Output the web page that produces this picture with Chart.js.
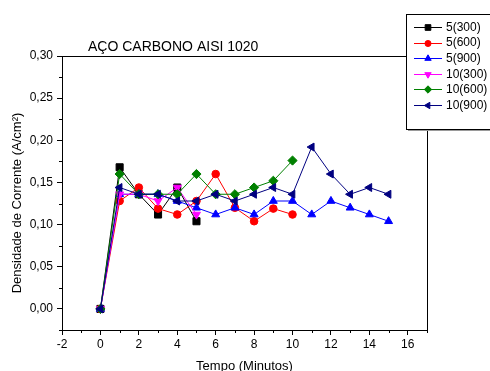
<!DOCTYPE html>
<html>
<head>
<meta charset="utf-8">
<script src="https://cdn.jsdelivr.net/npm/chart.js@4/dist/chart.umd.min.js"></script>
<style>
  html, body { margin: 0; padding: 0; background: #fff; }
  #wrap { width: 490px; height: 371px; }
</style>
</head>
<body>
<div id="wrap"><canvas id="c" width="490" height="371"></canvas></div>
<script>
// Time in minutes
const minutes = [0, 1, 2, 3, 4, 5, 6, 7, 8, 9, 10, 11, 12, 13, 14, 15];

// Current density (A/cm²) per series
const s5_300  = [0, 0.168, 0.136, 0.112, 0.144, 0.104];
const s5_600  = [0, 0.128, 0.144, 0.119, 0.112, 0.128, 0.160, 0.120, 0.104, 0.119, 0.112];
const s5_900  = [0, 0.136, 0.136, 0.136, 0.128, 0.120, 0.112, 0.120, 0.112, 0.128, 0.128, 0.112, 0.128, 0.120, 0.112, 0.104];
const s10_300 = [0, 0.136, 0.136, 0.128, 0.144, 0.112];
const s10_600 = [0, 0.160, 0.136, 0.136, 0.136, 0.160, 0.136, 0.136, 0.144, 0.152, 0.176];
const s10_900 = [0, 0.144, 0.136, 0.136, 0.128, 0.128, 0.136, 0.128, 0.136, 0.144, 0.136, 0.192, 0.160, 0.136, 0.144, 0.136];

const seriesLabels = ['5(300)', '5(600)', '5(900)', '10(300)', '10(600)', '10(900)'];
const xTickValues = [-2, 0, 2, 4, 6, 8, 10, 12, 14, 16];
const yTickValues = [0, 0.05, 0.10, 0.15, 0.20, 0.25, 0.30];

const chartTitle = 'AÇO CARBONO AISI 1020';
const xTitle = 'Tempo (Minutos)';
const yTitle = 'Densidade de Corrente (A/cm²)';

const FONT = '"Liberation Sans", Arial, sans-serif';

function pts(vals) {
  return vals.map((v, i) => ({ x: minutes[i], y: v }));
}

const styles = [
  { color: '#000000', pointStyle: 'rect',     rotation: 0,   radius: 5 },
  { color: '#ff0000', pointStyle: 'circle',   rotation: 0,   radius: 3.8 },
  { color: '#0000ff', pointStyle: 'triangle', rotation: 0,   radius: 4.6 },
  { color: '#ff00ff', pointStyle: 'triangle', rotation: 180, radius: 4.6 },
  { color: '#008000', pointStyle: 'rectRot',  rotation: 0,   radius: 4.6 },
  { color: '#000080', pointStyle: 'triangle', rotation: -90, radius: 4.6 }
];
const seriesValues = [s5_300, s5_600, s5_900, s10_300, s10_600, s10_900];

const datasets = seriesValues.map((vals, i) => ({
  label: seriesLabels[i],
  data: pts(vals),
  borderColor: styles[i].color,
  backgroundColor: styles[i].color,
  borderWidth: 1,
  pointStyle: styles[i].pointStyle,
  pointRotation: styles[i].rotation,
  pointRadius: styles[i].radius,
  pointHoverRadius: styles[i].radius,
  pointBorderWidth: 1,
  pointBorderColor: styles[i].color,
  pointBackgroundColor: styles[i].color,
  tension: 0,
  order: seriesValues.length - 1 - i
}));

// Frame, minor ticks, titles and boxed legend
const decor = {
  id: 'decor',
  afterDraw(chart) {
    const ctx = chart.ctx;
    const a = chart.chartArea;
    const xs = chart.scales.x, ys = chart.scales.y;
    ctx.save();
    ctx.strokeStyle = '#000';
    ctx.lineWidth = 1;
    // top and right edges of the plot frame
    ctx.beginPath();
    ctx.moveTo(Math.round(a.left) + 0.5, Math.round(a.top) + 0.5);
    ctx.lineTo(Math.round(a.right) + 0.5, Math.round(a.top) + 0.5);
    ctx.lineTo(Math.round(a.right) + 0.5, Math.round(a.bottom) + 0.5);
    ctx.stroke();
    // minor ticks
    ctx.beginPath();
    for (let v = -1; v <= 17; v += 2) {
      const px = Math.round(xs.getPixelForValue(v)) + 0.5;
      ctx.moveTo(px, Math.round(a.bottom));
      ctx.lineTo(px, Math.round(a.bottom) + 3);
    }
    for (let k = -1; k <= 11; k += 2) {
      const py = Math.round(ys.getPixelForValue(k * 0.025)) + 0.5;
      ctx.moveTo(Math.round(a.left), py);
      ctx.lineTo(Math.round(a.left) - 3, py);
    }
    ctx.stroke();

    // chart title
    ctx.fillStyle = '#000';
    ctx.font = '14px ' + FONT;
    ctx.textAlign = 'left';
    ctx.textBaseline = 'alphabetic';
    ctx.fillText(chartTitle, 88, 51);

    // axis titles
    ctx.font = '13px ' + FONT;
    ctx.textAlign = 'center';
    ctx.fillText(xTitle, (a.left + a.right) / 2, 370);
    ctx.save();
    ctx.translate(21, 203);
    ctx.rotate(-Math.PI / 2);
    ctx.fillText(yTitle, 0, 0);
    ctx.restore();

    // legend box
    const bx = 406, by = 14, bw = 90, bh = 115;
    ctx.fillStyle = '#9a9a9a';
    ctx.fillRect(bx + 2, by + 2, bw, bh);
    ctx.fillStyle = '#fff';
    ctx.fillRect(bx, by, bw, bh);
    ctx.strokeStyle = '#000';
    ctx.strokeRect(bx + 0.5, by + 0.5, bw, bh);

    ctx.font = '12px ' + FONT;
    ctx.textAlign = 'left';
    ctx.textBaseline = 'middle';
    chart.data.datasets.forEach((ds, i) => {
      const y = 27 + i * 15.6;
      ctx.strokeStyle = ds.borderColor;
      ctx.lineWidth = 1;
      ctx.beginPath();
      ctx.moveTo(414, Math.round(y) + 0.5);
      ctx.lineTo(442, Math.round(y) + 0.5);
      ctx.stroke();
      ctx.fillStyle = ds.pointBackgroundColor;
      Chart.helpers.drawPoint(ctx, {
        pointStyle: ds.pointStyle,
        rotation: ds.pointRotation,
        radius: ds.pointRadius * 0.8,
        borderWidth: 1
      }, 428, Math.round(y) + 0.5);
      ctx.fillStyle = '#000';
      ctx.fillText(ds.label, 446, y + 0.5);
    });
    ctx.restore();
  }
};

new Chart(document.getElementById('c'), {
  type: 'line',
  data: { datasets },
  options: {
    responsive: false,
    animation: false,
    events: [],
    layout: { padding: { top: 56, right: 63, left: 0, bottom: 0 } },
    plugins: { legend: { display: false }, tooltip: { enabled: false }, title: { display: false } },
    scales: {
      x: {
        type: 'linear',
        min: -2,
        max: 17,
        afterBuildTicks(scale) { scale.ticks = xTickValues.map(v => ({ value: v })); },
        afterFit(scale) { scale.height = 41; },
        grid: { drawOnChartArea: false, drawTicks: true, tickLength: 5, tickColor: '#000' },
        border: { display: true, color: '#000', width: 1 },
        ticks: {
          color: '#000',
          font: { family: FONT, size: 12 },
          padding: 2,
          maxRotation: 0,
          autoSkip: false,
          callback: v => String(v)
        }
      },
      y: {
        type: 'linear',
        min: -0.025,
        max: 0.30,
        afterBuildTicks(scale) { scale.ticks = yTickValues.map(v => ({ value: v })); },
        afterFit(scale) { scale.width = 62; },
        grid: { drawOnChartArea: false, drawTicks: true, tickLength: 5, tickColor: '#000' },
        border: { display: true, color: '#000', width: 1 },
        ticks: {
          color: '#000',
          font: { family: FONT, size: 12 },
          padding: 4,
          autoSkip: false,
          callback: v => Number(v).toFixed(2).replace('.', ',')
        }
      }
    }
  },
  plugins: [decor]
});
</script>
</body>
</html>
